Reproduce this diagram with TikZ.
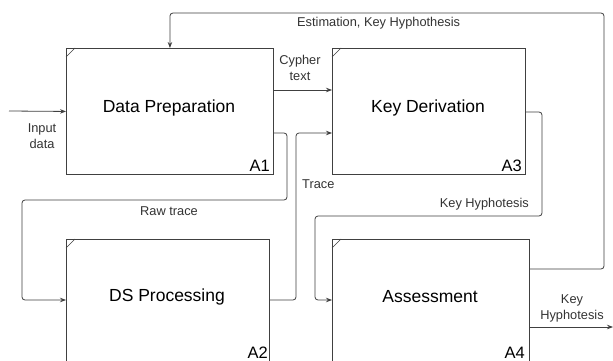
\documentclass[tikz,border=0pt]{standalone}
\usepackage{fontspec}
\setmainfont{Liberation Sans}
\usetikzlibrary{arrows.meta,calc}
\definecolor{ln}{HTML}{404040}
\definecolor{tx}{HTML}{333333}
\tikzset{
  box/.style={draw=ln, line width=0.9pt, anchor=north west, inner sep=0pt},
  title/.style={font=\fontsize{17.5}{20}\selectfont, text=black, inner sep=0pt},
  num/.style={font=\fontsize{16.5}{18}\selectfont, text=black, inner sep=0pt, anchor=base east},
  lbl/.style={font=\fontsize{12.8}{16}\selectfont, text=tx, inner sep=0pt, align=center},
  conn/.style={draw=ln, line width=0.8pt, rounded corners=3pt},
  arr/.style={conn, -{Stealth[length=6pt,width=4.5pt]}},
}
\begin{document}
\begin{tikzpicture}[x=1pt,y=-1pt]
\clip (0,0) rectangle (613,361);
\useasboundingbox (0,0) rectangle (613,361);
\fill[white] (0,0) rectangle (613,361);
% boxes
\node[box, minimum width=207pt, minimum height=126pt] (a1) at (66,48) {};
\node[box, minimum width=193pt, minimum height=126pt] (a3) at (332,48) {};
\node[box, minimum width=203pt, minimum height=123pt] (a2) at (66,239) {};
\node[box, minimum width=197pt, minimum height=123pt] (a4) at (332,239) {};
% corner ticks
\foreach \b in {a1,a2,a3,a4}{
  \draw[ln, line width=0.6pt] ($(\b.north west)+(0,9)$) -- ($(\b.north west)+(9,0)$);
}
% titles
\node[title] (t1) at (169,108) {Data Preparation};
\node[title] (t3) at (428,108) {Key Derivation};
\node[title] (t2) at (167,297) {DS Processing};
\node[title] (t4) at (430,297) {Assessment};
% numbers
\node[num] (n1) at ($(a1.south east)+(-4,-3)$) {A1};
\node[num] (n3) at ($(a3.south east)+(-4,-3)$) {A3};
\node[num] (n2) at (268,358) {A2};
\node[num] (n4) at (525,358) {A4};
% coordinates
\coordinate (inp) at (9,111);
\coordinate (fb) at (604,269);
\coordinate (cy) at (273,90);
\coordinate (rw) at (273,133);
\coordinate (tr) at (269,300);
\coordinate (kh) at (525,112);
\coordinate (out) at (613,327);
% connectors
\draw[arr] (inp) -- (a1.west);
\draw[arr] (a4.east |- fb) -- (fb) -- (604,13) -- (a1.north |- 0,13) -- (a1.north);
\draw[arr] (cy) -- (cy -| a3.west);
\draw[arr] (rw) -- (287,133) -- (287,200) -- (22,200) -- (22,300) -- (a2.west |- 0,300);
\draw[arr] (tr) -- (296,300) -- (296,133) -- (a3.west |- 0,133);
\draw[arr] (kh) -- (542,112) -- (542,216) -- (315,216) -- (315,300) -- (a4.west |- 0,300);
\draw[arr] (a4.east |- out) -- (out);
% labels
\node[lbl] (l1) at (42,136) {Input\\data};
\node[lbl, anchor=west] (l2) at (297,23) {Estimation, Key Hyphothesis};
\node[lbl] (l3) at (300,68) {Cypher\\text};
\node[lbl] (l4) at (169,211) {Raw trace};
\node[lbl, anchor=west] (l5) at (302,184) {Trace};
\node[lbl, anchor=east] (l6) at (529,204) {Key Hyphotesis};
\node[lbl] (l7) at (572,308) {Key\\Hyphotesis};
\end{tikzpicture}
\end{document}
